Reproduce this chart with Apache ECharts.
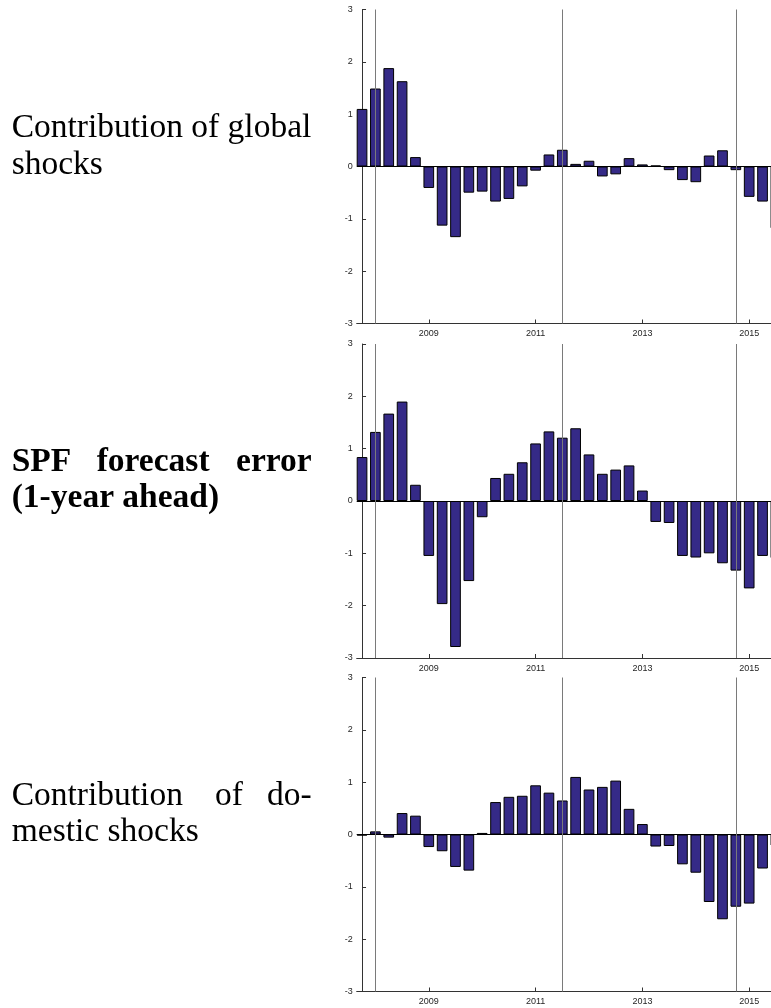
<!DOCTYPE html>
<html>
<head>
<meta charset="utf-8">
<script src="https://cdn.jsdelivr.net/npm/echarts@6/dist/echarts.min.js"></script>
<style>html,body{margin:0;padding:0;background:#fff;}#c{width:771px;height:1008px;}</style>
</head>
<body>
<div id="c"></div>
<script>
// Quarters (bar categories), 2007Q4 .. 2015Q3
const quarters = ['2007Q4',
  '2008Q1','2008Q2','2008Q3','2008Q4','2009Q1','2009Q2','2009Q3','2009Q4',
  '2010Q1','2010Q2','2010Q3','2010Q4','2011Q1','2011Q2','2011Q3','2011Q4',
  '2012Q1','2012Q2','2012Q3','2012Q4','2013Q1','2013Q2','2013Q3','2013Q4',
  '2014Q1','2014Q2','2014Q3','2014Q4','2015Q1','2015Q2','2015Q3'];

const globalShocks = [1.10, 1.49, 1.88, 1.63, 0.18, -0.41, -1.13, -1.35, -0.50, -0.48, -0.67, -0.62, -0.38, -0.08,
  0.23, 0.32, 0.05, 0.11, -0.19, -0.15, 0.16, 0.04, 0.02, -0.07, -0.26, -0.30, 0.21, 0.31, -0.07, -0.58, -0.67, -1.18];

const spfError = [0.84, 1.32, 1.67, 1.90, 0.31, -1.05, -1.97, -2.79, -1.53, -0.31, 0.44, 0.52, 0.74, 1.10,
  1.33, 1.21, 1.39, 0.89, 0.52, 0.60, 0.68, 0.20, -0.40, -0.42, -1.05, -1.08, -1.00, -1.19, -1.33, -1.67, -1.05, -1.09];

const domesticShocks = [-0.02, 0.06, -0.06, 0.41, 0.36, -0.24, -0.32, -0.62, -0.69, 0.03, 0.62, 0.72, 0.74, 0.94,
  0.80, 0.65, 1.10, 0.86, 0.91, 1.03, 0.49, 0.20, -0.23, -0.22, -0.57, -0.73, -1.29, -1.62, -1.38, -1.32, -0.65, -0.21];

const tickYears = ['2009', '2011', '2013', '2015'];
const eventQuarters = ['2008Q1', '2011Q3', '2014Q4'];
const yTicks = [-3, -2, -1, 0, 1, 2, 3];

const panelSeries = [globalShocks, spfError, domesticShocks];

// layout
const X_MIN = -0.4, X_MAX = 32;
const PX_PER_Q = 13.35;
const gridTops = [9.5, 344, 677.5];
const gridH = 314;
const gridLeft = 356.7;
const gridW = (X_MAX - X_MIN) * PX_PER_Q;

const tickIdx = tickYears.map(y => quarters.indexOf(y + 'Q1'));
const eventIdx = eventQuarters.map(q => quarters.indexOf(q));

const axisColor = '#333333';
const labelColor = '#262626';

const grids = [], xAxes = [], yAxes = [], series = [];
panelSeries.forEach((vals, p) => {
  grids.push({ left: gridLeft, top: gridTops[p], width: gridW, height: gridH, containLabel: false, outerBoundsMode: 'none' });
  xAxes.push({
    type: 'value', gridIndex: p, min: X_MIN, max: X_MAX,
    axisLine: { show: true, onZero: false, lineStyle: { color: axisColor, width: 1 } },
    axisTick: { show: true, inside: true, length: 4, customValues: tickIdx, lineStyle: { color: axisColor } },
    axisLabel: {
      show: true, customValues: tickIdx, margin: 6,
      formatter: v => quarters[Math.round(v)].slice(0, 4),
      fontFamily: 'Liberation Sans', fontSize: 9, color: labelColor
    },
    splitLine: { show: false }
  });
  yAxes.push({
    type: 'value', gridIndex: p, min: yTicks[0], max: yTicks[yTicks.length - 1], interval: 1,
    axisLine: { show: true, lineStyle: { color: axisColor, width: 1 } },
    axisTick: { show: true, inside: true, length: 4, lineStyle: { color: axisColor } },
    axisLabel: { margin: 4, fontFamily: 'Liberation Sans', fontSize: 9, color: labelColor },
    splitLine: { show: false }
  });
  series.push({
    type: 'bar', xAxisIndex: p, yAxisIndex: p,
    data: vals.map((v, i) => [i, v]),
    barWidth: 0.8 * PX_PER_Q,
    itemStyle: { color: '#352A87', borderColor: '#000', borderWidth: 1 },
    silent: true,
    markLine: {
      silent: true, symbol: ['none', 'none'], label: { show: false },
      animation: false,
      data: [
        { yAxis: 0, lineStyle: { color: '#000', width: 1, type: 'solid' } },
        ...eventIdx.map(i => ({ xAxis: i, lineStyle: { color: '#7a7a7a', width: 1, type: 'solid' } }))
      ]
    }
  });
});

const serif = 'Liberation Serif';
const FS = 33.5;
function txt(text, x, y, align, bold) {
  return { type: 'text', x: x, y: y, silent: true,
    style: { text: text, fill: '#000', font: (bold ? 'bold ' : '') + FS + 'px "' + serif + '"', align: align, verticalAlign: 'middle' } };
}
const graphics = [
  txt('Contribution of global', 11.7, 128, 'left'),
  txt('shocks', 11.7, 165, 'left'),
  txt('SPF', 11.7, 462, 'left', true),
  txt('forecast', 96.7, 462, 'left', true),
  txt('error', 311.7, 462, 'right', true),
  txt('(1-year ahead)', 11.7, 498, 'left', true),
  txt('Contribution', 11.7, 796, 'left'),
  txt('of', 215, 796, 'left'),
  txt('do-', 311.7, 796, 'right'),
  txt('mestic shocks', 11.7, 832, 'left')
];

const chart = echarts.init(document.getElementById('c'), null, { renderer: 'canvas' });
chart.setOption({
  animation: false,
  backgroundColor: '#fff',
  grid: grids, xAxis: xAxes, yAxis: yAxes, series: series,
  graphic: graphics
});
</script>
</body>
</html>
